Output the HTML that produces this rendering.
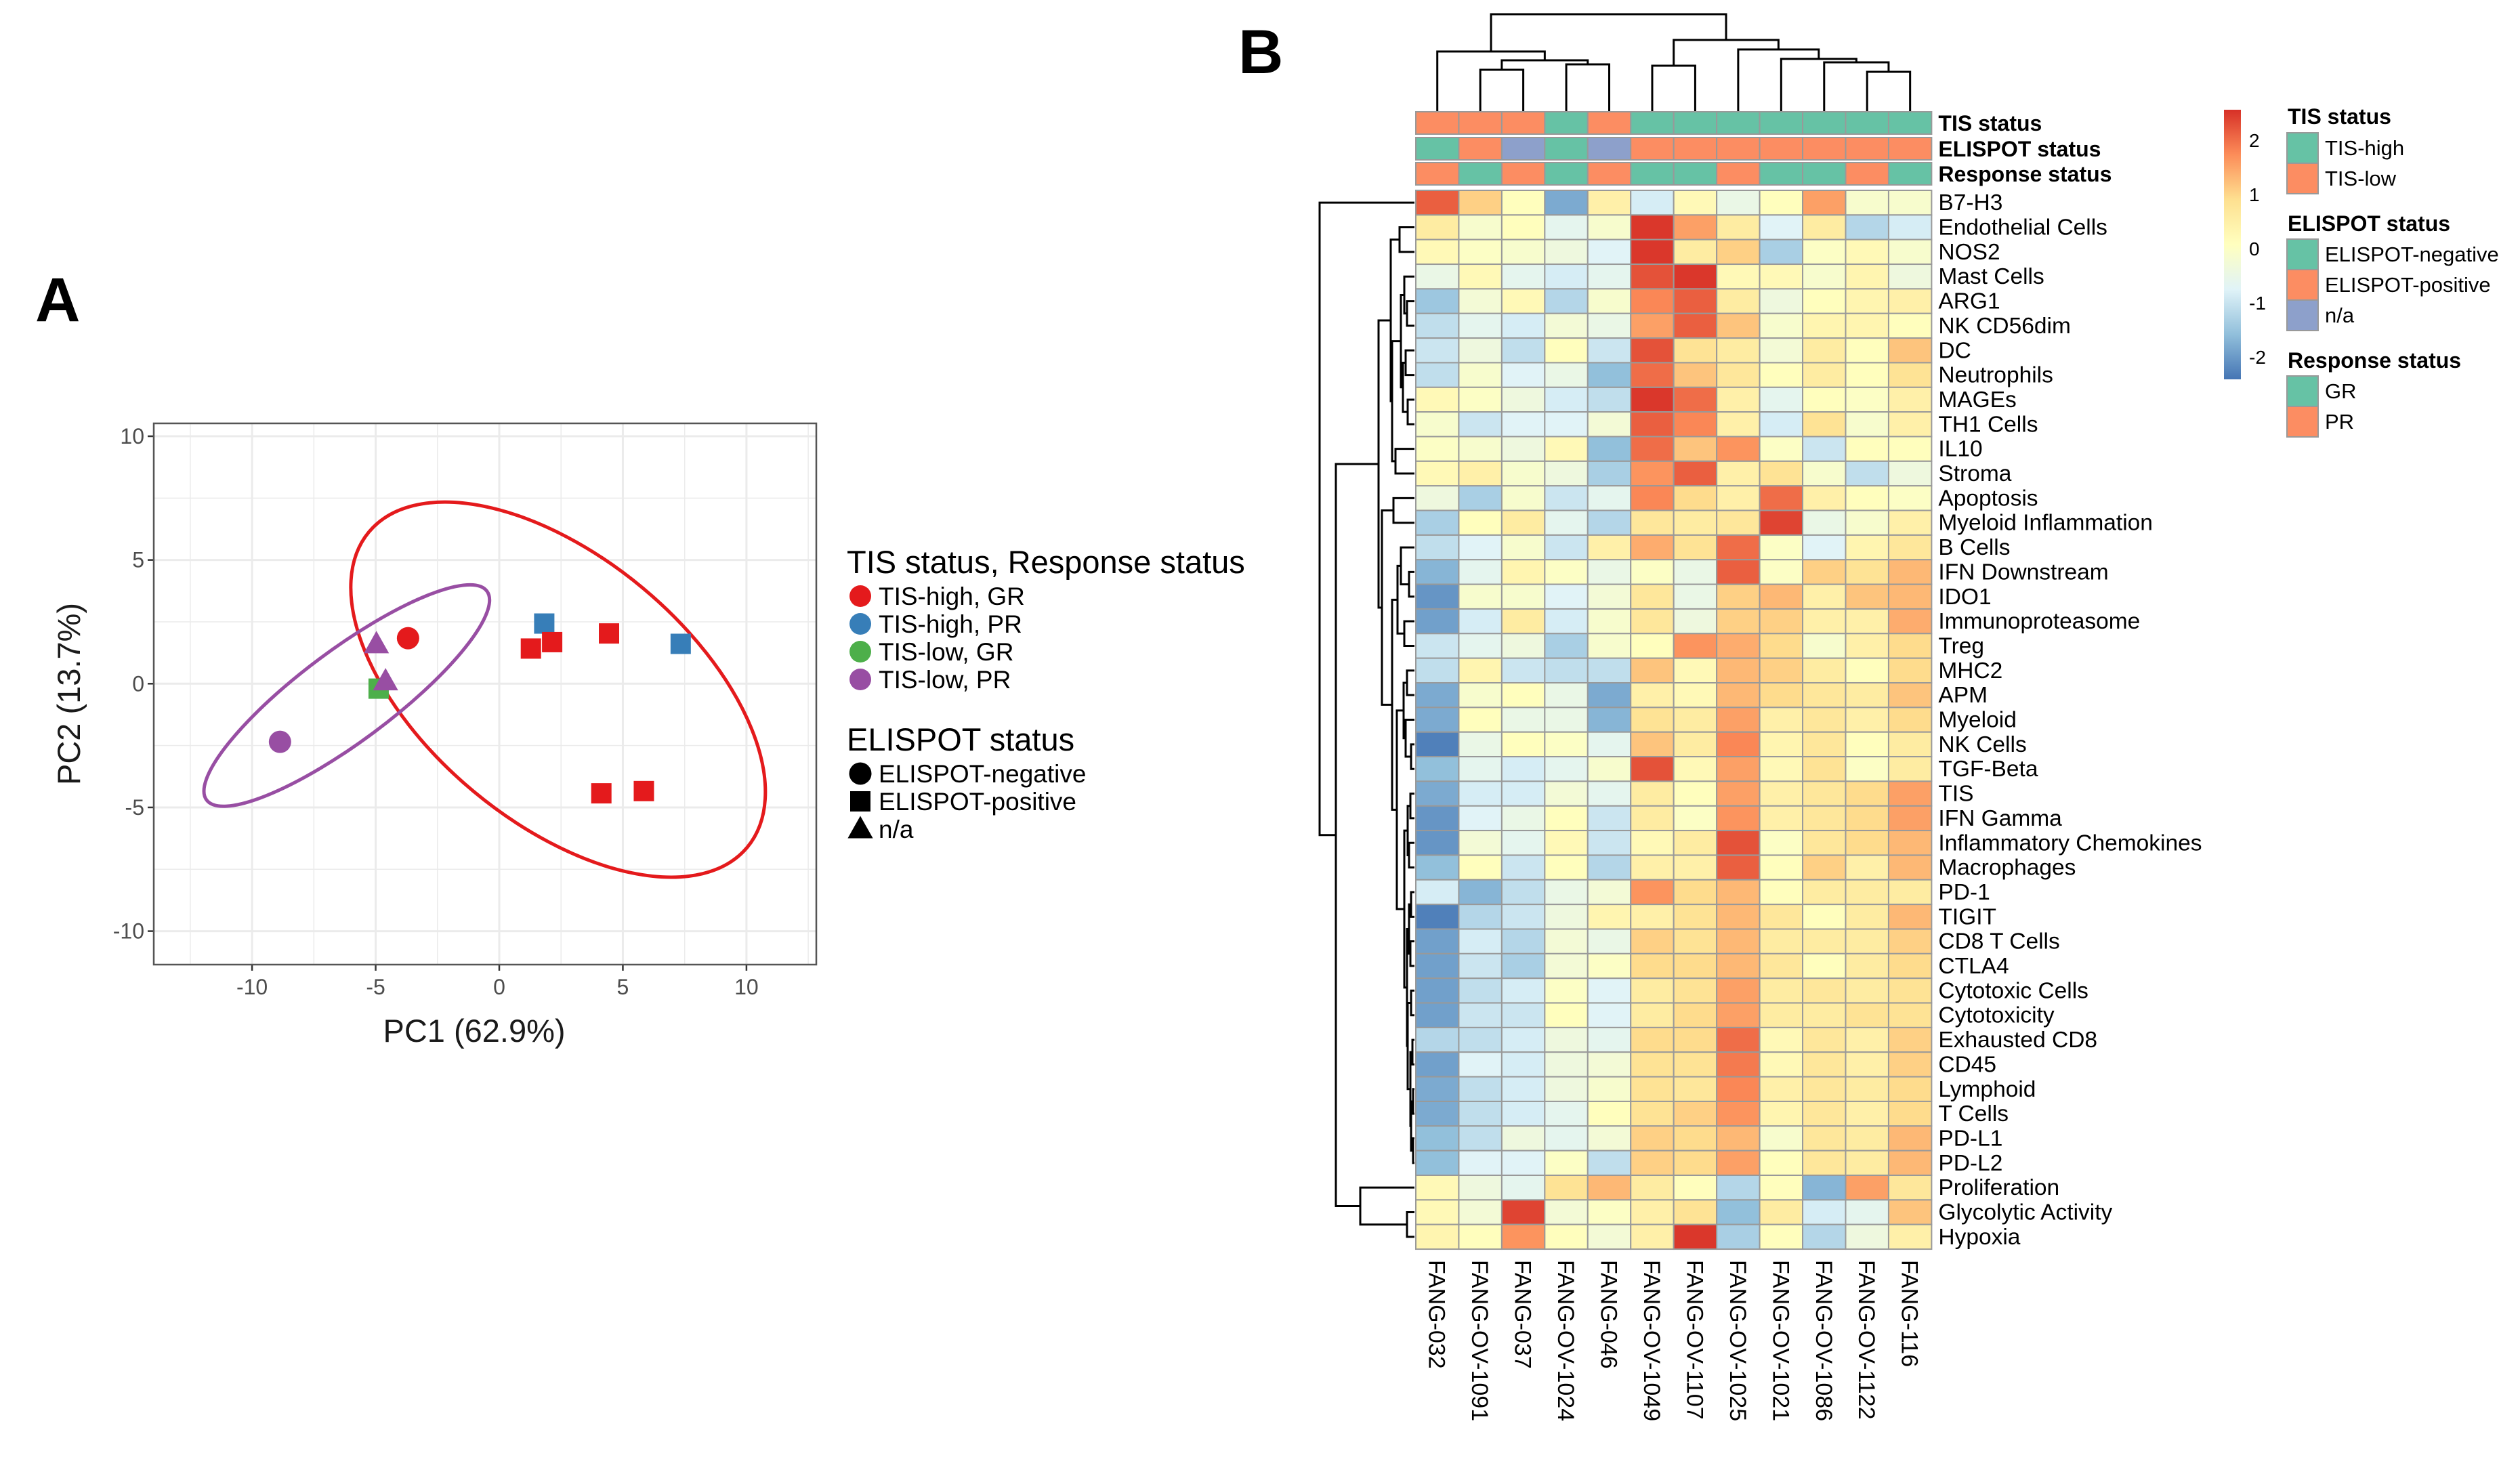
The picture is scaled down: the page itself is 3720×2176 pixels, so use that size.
<!DOCTYPE html>
<html><head><meta charset="utf-8"><style>
html,body{margin:0;padding:0;background:#fff;}
svg{display:block;font-family:"Liberation Sans",sans-serif;}
</style></head><body>
<svg id="fig" xmlns="http://www.w3.org/2000/svg" width="3720" height="2176" viewBox="0 0 3720 2176">
<rect width="3720" height="2176" fill="#fff"/>
<text x="52" y="474" font-size="92" font-weight="bold">A</text>
<text x="1828" y="108" font-size="92" font-weight="bold">B</text>
<g id="pca"></g>
<g id="heat"></g>
</svg>
<script>
// ---------- PCA data ----------
const pcX = [-8.87, -4.97, -3.69, -4.88, -4.6, 1.82, 7.34, 1.28, 2.14, 4.44, 4.13, 5.85];
const pcY = [-2.35, 1.6, 1.84, -0.2, 0.1, 2.43, 1.61, 1.42, 1.68, 2.03, -4.43, -4.34];
const pcGroup = [3, 3, 0, 2, 3, 1, 1, 0, 0, 0, 0, 0];
const pcShape = ["circle","triangle","circle","square","triangle","square","square","square","square","square","square","square"];
const groupNames = ["TIS-high, GR","TIS-high, PR","TIS-low, GR","TIS-low, PR"];
const groupColors = ["#E41A1C","#377EB8","#4DAF4A","#984EA3"];
const pcTicks = [-10, -5, 0, 5, 10];
const ellCx = [2.38, -6.17];
const ellCy = [-0.24, -0.48];
const ellA = [9.96, 7.07];
const ellB = [5.35, 1.85];
const ellAng = [39.8, -36.7];
const ellGroup = [0, 3];

// ---------- Heatmap data ----------
const colNames = ["FANG-032","FANG-OV-1091","FANG-037","FANG-OV-1024","FANG-046","FANG-OV-1049","FANG-OV-1107","FANG-OV-1025","FANG-OV-1021","FANG-OV-1086","FANG-OV-1122","FANG-116"];
const rowNames = ["B7-H3","Endothelial Cells","NOS2","Mast Cells","ARG1","NK CD56dim","DC","Neutrophils","MAGEs","TH1 Cells","IL10","Stroma","Apoptosis","Myeloid Inflammation","B Cells","IFN Downstream","IDO1","Immunoproteasome","Treg","MHC2","APM","Myeloid","NK Cells","TGF-Beta","TIS","IFN Gamma","Inflammatory Chemokines","Macrophages","PD-1","TIGIT","CD8 T Cells","CTLA4","Cytotoxic Cells","Cytotoxicity","Exhausted CD8","CD45","Lymphoid","T Cells","PD-L1","PD-L2","Proliferation","Glycolytic Activity","Hypoxia"];
const values = [
[1.8,0.9,0.1,-1.5,0.4,-0.7,0.2,-0.4,0.1,1.3,-0.1,-0.1],
[0.5,-0.1,0.1,-0.5,-0.1,2.1,1.3,0.5,-0.6,0.5,-1.0,-0.7],
[0.2,0,-0.1,-0.3,-0.6,2.1,0.5,0.9,-1.1,0,0.2,-0.1],
[-0.4,0.2,-0.5,-0.7,-0.5,1.9,2.1,0.2,0.2,-0.1,0.3,-0.3],
[-1.2,-0.2,0.2,-1.0,-0.1,1.5,1.8,0.5,-0.3,0.1,0.3,0.4],
[-0.9,-0.5,-0.7,-0.2,-0.4,1.3,1.8,1.0,-0.1,0.3,0.3,0.1],
[-0.8,-0.3,-0.9,0.1,-0.8,1.9,0.7,0.5,-0.2,0.5,0.1,1.0],
[-0.9,-0.1,-0.6,-0.4,-1.3,1.7,1.0,0.6,0.1,0.5,0.1,0.7],
[0.2,0,-0.3,-0.7,-0.9,2.1,1.7,0.4,-0.5,0.1,0,0.4],
[-0.1,-0.8,-0.6,-0.6,-0.2,1.8,1.5,0.4,-0.7,0.7,-0.1,0.4],
[0,-0.1,-0.3,0.2,-1.3,1.7,1.0,1.4,0,-0.8,0.1,0.1],
[0.2,0.4,-0.1,-0.3,-1.1,1.4,1.8,0.4,0.7,-0.1,-0.9,-0.3],
[-0.3,-1.1,-0.1,-0.8,-0.5,1.5,0.8,0.4,1.7,0.4,0.1,0],
[-1.1,0.1,0.5,-0.5,-1.0,0.6,0.5,0.6,2.0,-0.4,-0.1,0.4],
[-0.9,-0.6,-0.1,-0.8,0.4,1.2,0.7,1.7,0,-0.6,0.3,0.6],
[-1.4,-0.5,0.3,0,-0.4,0,-0.4,1.8,0,0.9,0.7,1.1],
[-1.7,-0.1,-0.1,-0.6,-0.2,0.6,-0.4,0.9,1.1,0.4,1.0,1.1],
[-1.6,-0.7,0.5,-0.7,-0.1,0.6,-0.3,0.9,0.9,0.4,0.4,1.2],
[-0.8,-0.5,-0.3,-1.1,-0.1,0.1,1.4,1.2,0.8,-0.1,0.4,0.8],
[-0.9,0.3,-0.8,-0.9,-0.9,1.0,0.2,1.1,0.9,0.5,0.1,0.8],
[-1.5,-0.1,0.1,-0.4,-1.5,0.4,0.2,1.1,0.8,0.6,0.5,1.0],
[-1.5,0.1,-0.4,-0.4,-1.4,0.7,0.5,1.3,0.4,0.6,0.4,0.8],
[-1.9,-0.4,0.1,0,-0.5,1.0,0.5,1.5,0.3,0.6,0.1,0.5],
[-1.3,-0.5,-0.7,-0.5,-0.1,1.9,0.2,1.3,0.2,0.7,0,0.5],
[-1.5,-0.7,-0.7,-0.2,-0.5,0.5,0.1,1.3,0.4,0.6,0.8,1.3],
[-1.7,-0.6,-0.4,0.1,-0.8,0.5,0,1.4,0.4,0.6,0.8,1.3],
[-1.7,-0.2,-0.5,0.2,-0.8,0.2,0.5,1.9,0,0.6,0.8,1.1],
[-1.3,0.1,-0.8,0.1,-1.0,0.4,0.4,1.8,0.1,0.9,0.4,1.1],
[-0.7,-1.4,-0.9,-0.4,-0.2,1.4,0.8,1.1,0.1,0.5,0.5,0.5],
[-1.9,-1.0,-0.8,-0.3,0.3,0.4,0.7,1.1,0.6,0.1,0.5,1.1],
[-1.6,-0.7,-1.0,-0.2,-0.4,0.9,0.7,1.1,0.5,0.5,0.5,0.9],
[-1.6,-0.8,-1.1,-0.2,0,0.8,0.8,1.1,0.6,0.1,0.5,0.8],
[-1.6,-0.9,-0.7,0,-0.6,0.5,0.7,1.3,0.5,0.6,0.5,0.7],
[-1.6,-0.8,-0.8,0.1,-0.6,0.5,0.8,1.3,0.5,0.5,0.7,0.7],
[-1.0,-0.9,-0.7,-0.3,-0.5,0.8,0.8,1.7,0.2,0.6,0.4,0.9],
[-1.6,-0.6,-0.7,-0.3,-0.2,0.7,0.7,1.6,0.2,0.6,0.4,0.9],
[-1.5,-0.9,-0.7,-0.3,-0.1,0.7,0.6,1.5,0.4,0.6,0.5,0.8],
[-1.5,-0.9,-0.7,-0.5,0.1,0.7,0.9,1.4,0.3,0.6,0.4,0.8],
[-1.3,-0.9,-0.3,-0.5,-0.2,0.9,0.8,1.1,-0.1,0.6,0.5,1.1],
[-1.3,-0.6,-0.6,0,-0.9,0.9,0.8,1.3,0.1,0.6,0.5,1.1],
[0.2,-0.3,-0.5,0.7,1.1,0.5,0.1,-1.0,0.1,-1.4,1.3,0.6],
[0.2,-0.2,2.0,-0.2,0,0.4,0.7,-1.3,0.5,-0.7,-0.5,1.0],
[0.3,0.1,1.4,0.1,-0.2,0.4,2.1,-1.1,0.1,-1.0,-0.3,0.4]
];
const annTIS = ["TIS-low","TIS-low","TIS-low","TIS-high","TIS-low","TIS-high","TIS-high","TIS-high","TIS-high","TIS-high","TIS-high","TIS-high"];
const annELISPOT = ["ELISPOT-negative","ELISPOT-positive","n/a","ELISPOT-negative","n/a","ELISPOT-positive","ELISPOT-positive","ELISPOT-positive","ELISPOT-positive","ELISPOT-positive","ELISPOT-positive","ELISPOT-positive"];
const annResp = ["PR","GR","PR","GR","PR","GR","GR","PR","GR","GR","PR","GR"];
const colorbarTicks = [-2, -1, 0, 1, 2];
const colTree = [21, [76, 0, [89, [103, 1, 2], [95, 3, 4]]], [59, [97, 5, 6], [73, 7, [87, 8, [92, 9, [106, 10, 11]]]]]];
const rowTree = [1948, 0, [1972, [2035, [2053, [2066,1,2], [2055, [2068, [2073,3,[2077,4,5]], [2071,[2075,6,7],[2078,8,9]]], [2060,10,11]]], [2040, [2057,12,13], [2055, [2063,[2068,14,[2080,15,16]],[2073,17,18]], [2062, [2072,[2077,19,20],[2075,21,[2083,22,23]]], [2073, [2078,[2082,24,25],[2080,26,27]], [2077,[2080,[2083,28,29],[2082,30,31]], [2078,[2083,32,33],[2082,[2085,34,35],[2083,[2086,36,37],[2086,38,39]]]]]]]]]], [2008,40,[2077,41,42]]]];

const NS = "http://www.w3.org/2000/svg";
function el(tag, attrs, parent){const e=document.createElementNS(NS,tag);for(const k in attrs)e.setAttribute(k,attrs[k]);parent.appendChild(e);return e;}

// ---------- PCA ----------
const pca = document.getElementById('pca');
const P = {l:227, r:1205, t:625, b:1424};
const sx = v => 737 + v*36.49;
const sy = v => 1009.3 - v*36.53;
const scl = 36.5;
el('rect',{x:P.l,y:P.t,width:P.r-P.l,height:P.b-P.t,fill:'#fff'},pca);
for(let v=-12.5; v<=12.5; v+=2.5){
  const major = Math.abs(v%5)<1e-9;
  const x=sx(v), y=sy(v);
  if(x>P.l&&x<P.r){const g=el('line',{x1:x,x2:x,y1:P.t,y2:P.b,stroke:'#ebebeb','stroke-width':major?3:1.5},pca);
  
  }
  if(y>P.t&&y<P.b){const g=el('line',{x1:P.l,x2:P.r,y1:y,y2:y,stroke:'#ebebeb','stroke-width':major?3:1.5},pca);
  
  }
}
pcTicks.forEach(t=>{
  el('line',{x1:sx(t),x2:sx(t),y1:P.b,y2:P.b+9,stroke:'#333','stroke-width':2.5},pca);
  const tx=el('text',{x:sx(t),y:P.b+44,'font-size':32,fill:'#4d4d4d','text-anchor':'middle'},pca);tx.textContent=t;
  
  
  el('line',{x1:P.l-9,x2:P.l,y1:sy(t),y2:sy(t),stroke:'#333','stroke-width':2.5},pca);
  const ty=el('text',{x:P.l-14,y:sy(t)+11,'font-size':32,fill:'#4d4d4d','text-anchor':'end'},pca);ty.textContent=t;
  
  
});
ellCx.forEach((c,i)=>{
  const e=el('ellipse',{cx:sx(c),cy:sy(ellCy[i]),rx:ellA[i]*scl,ry:ellB[i]*scl,fill:'none',stroke:groupColors[ellGroup[i]],'stroke-width':5,transform:`rotate(${ellAng[i]} ${sx(c)} ${sy(ellCy[i])})`},pca);
  
  
});
function drawShape(shape,x,y,col,parent,size){
  let e;
  if(shape==='circle') e=el('circle',{cx:x,cy:y,r:size*0.55,fill:col},parent);
  else if(shape==='square') e=el('rect',{x:x-size/2,y:y-size/2,width:size,height:size,fill:col},parent);
  else e=el('polygon',{points:`${x},${y-size*0.65} ${x-size*0.62},${y+size*0.45} ${x+size*0.62},${y+size*0.45}`,fill:col},parent);
  return e;
}
pcX.forEach((v,i)=>{
  const m=drawShape(pcShape[i],sx(v),sy(pcY[i]),groupColors[pcGroup[i]],pca,30);
  
  
});
el('rect',{x:P.l,y:P.t,width:P.r-P.l,height:P.b-P.t,fill:'none',stroke:'#555','stroke-width':2.5},pca);
let t=el('text',{x:(P.l+P.r)/2-16,y:1538,'font-size':47,fill:'#1a1a1a','text-anchor':'middle'},pca);t.textContent='PC1 (62.9%)';


t=el('text',{x:0,y:0,'font-size':47,fill:'#1a1a1a','text-anchor':'middle',transform:`translate(118 ${(P.t+P.b)/2}) rotate(-90)`},pca);t.textContent='PC2 (13.7%)';


t=el('text',{x:1250,y:846,'font-size':47,fill:'#000'},pca);t.textContent='TIS status, Response status';


groupNames.forEach((n,i)=>{
  const y=880+i*41;
  const c=el('circle',{cx:1270,cy:y,r:16,fill:groupColors[i]},pca);
  
  
  const tt=el('text',{x:1297,y:y+13,'font-size':37,fill:'#000'},pca);tt.textContent=n;
  
  
});
t=el('text',{x:1250,y:1108,'font-size':47,fill:'#000'},pca);t.textContent='ELISPOT status';


[["circle","ELISPOT-negative"],["square","ELISPOT-positive"],["triangle","n/a"]].forEach((s,i)=>{
  const y=1142+i*41;
  const m=drawShape(s[0],1270,y,'#000',pca,30);
  
  
  const tt=el('text',{x:1297,y:y+13,'font-size':37,fill:'#000'},pca);tt.textContent=s[1];
  
  
});

// ---------- Heatmap ----------
const heat=document.getElementById('heat');
const H={l:2090, t:281, cw:63.45, rh:36.35};
const cx = j => H.l + j*H.cw;
const ry = i => H.t + i*H.rh;
const pal=["#4575B4","#91BFDB","#E0F3F8","#FFFFBF","#FEE090","#FC8D59","#D73027"];
const vmin=-2.0, vmax=2.15;
function hex2rgb(h){return [1,3,5].map(k=>parseInt(h.substr(k,2),16));}
function color(v){
  let f=(v-vmin)/(vmax-vmin)*(pal.length-1);f=Math.max(0,Math.min(pal.length-1,f));
  const i=Math.min(Math.floor(f),pal.length-2), r=f-i;
  const a=hex2rgb(pal[i]), b=hex2rgb(pal[i+1]);
  return `rgb(${a.map((x,k)=>Math.round(x+(b[k]-x)*r)).join(',')})`;
}
values.forEach((row,i)=>{
  row.forEach((v,j)=>{
    const r=el('rect',{x:cx(j),y:ry(i),width:H.cw,height:H.rh,fill:color(v),stroke:'#999','stroke-width':2},heat);
    
    
  });
  const tx=el('text',{x:cx(12)+10,y:ry(i)+H.rh/2+11,'font-size':33.5,fill:'#000'},heat);tx.textContent=rowNames[i];
  
  
});
colNames.forEach((n,j)=>{
  const tx=el('text',{x:0,y:0,'font-size':34,fill:'#000',transform:`translate(${cx(j)+H.cw/2-12} 1860) rotate(90)`},heat);tx.textContent=n;
  
  
});
const annColors={"TIS-high":"#66C2A5","TIS-low":"#FC8D62","ELISPOT-negative":"#66C2A5","ELISPOT-positive":"#FC8D62","n/a":"#8DA0CB","GR":"#66C2A5","PR":"#FC8D62"};
const annRows=[[annTIS,165,"TIS status"],[annELISPOT,203,"ELISPOT status"],[annResp,240,"Response status"]];
annRows.forEach(a=>{
  a[0].forEach((v,j)=>{
    const r=el('rect',{x:cx(j),y:a[1],width:H.cw,height:33,fill:annColors[v],stroke:'#999','stroke-width':2},heat);
    
    
  });
  const tx=el('text',{x:cx(12)+10,y:a[1]+28,'font-size':32,'font-weight':'bold',fill:'#000'},heat);tx.textContent=a[2];
  
  
});
function drawCol(node){
  if(typeof node==='number') return [cx(node)+H.cw/2,164];
  const L=drawCol(node[1]), R=drawCol(node[2]), h=node[0];
  const p=el('path',{d:`M${L[0]},${L[1]}V${h}H${R[0]}V${R[1]}`,fill:'none',stroke:'#000','stroke-width':3},heat);
  
  
  return [(L[0]+R[0])/2,h];
}
drawCol(colTree);
function drawRow(node){
  if(typeof node==='number') return [2088, ry(node)+H.rh/2];
  const L=drawRow(node[1]), R=drawRow(node[2]), h=node[0];
  const p=el('path',{d:`M${L[0]},${L[1]}H${h}V${R[1]}H${R[0]}`,fill:'none',stroke:'#000','stroke-width':3},heat);
  
  
  return [h,(L[1]+R[1])/2];
}
drawRow(rowTree);
const defs=el('defs',{},heat);
const grad=el('linearGradient',{id:'cb',x1:0,y1:1,x2:0,y2:0},defs);
pal.forEach((c,i)=>el('stop',{offset:i/(pal.length-1),'stop-color':c},grad));
const cbTop=162, cbBot=560;
const cbY=v=>367-v*80;
const cbr=el('rect',{x:3283,y:cbTop,width:25,height:cbBot-cbTop,fill:'url(#cb)'},heat);


colorbarTicks.forEach(v=>{
  const tx=el('text',{x:3320,y:cbY(v)+10,'font-size':28,fill:'#000'},heat);tx.textContent=v;
  
  
});
const legs=[["TIS status",183,["TIS-high","TIS-low"],196],["ELISPOT status",341,["ELISPOT-negative","ELISPOT-positive","n/a"],353],["Response status",543,["GR","PR"],555]];
legs.forEach(L=>{
  const tt=el('text',{x:3377,y:L[1],'font-size':32,'font-weight':'bold',fill:'#000'},heat);tt.textContent=L[0];
  
  
  L[2].forEach((n,i)=>{
    const y=L[3]+i*45;
    const r=el('rect',{x:3376,y:y,width:46,height:45,fill:annColors[n],stroke:'#999','stroke-width':2},heat);
    
    
    const tx=el('text',{x:3432,y:y+33,'font-size':31,fill:'#000'},heat);tx.textContent=n;
    
    
  });
});
</script>
</body></html>
